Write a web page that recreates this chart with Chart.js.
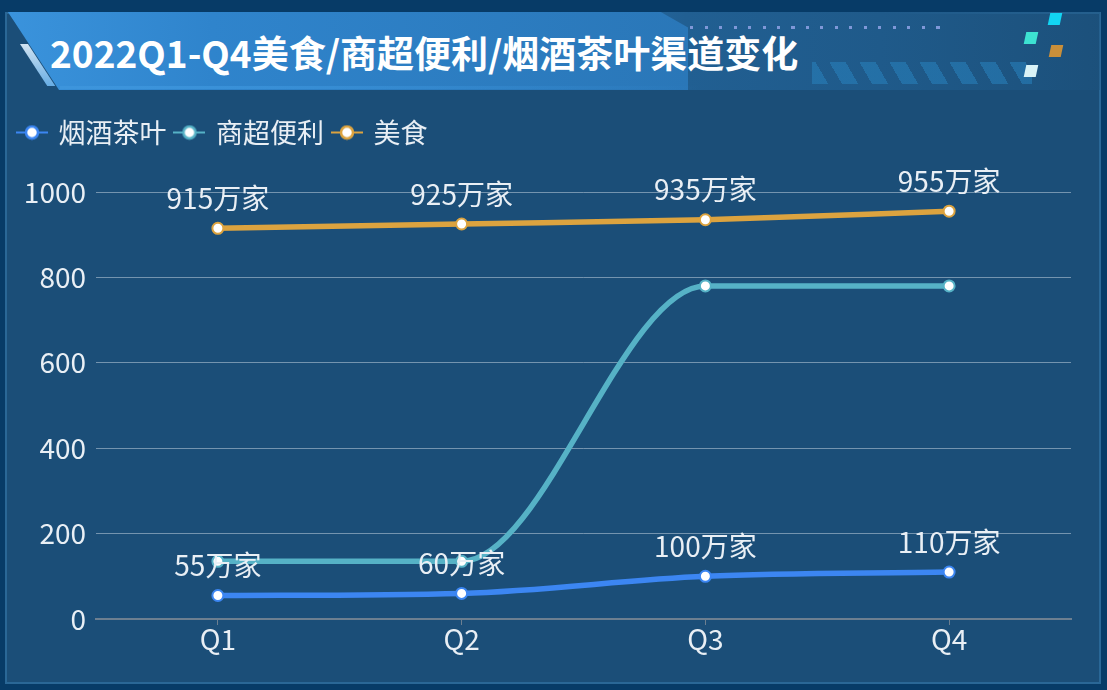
<!DOCTYPE html>
<html>
<head>
<meta charset="utf-8">
<script src="https://cdn.jsdelivr.net/npm/chart.js@4/dist/chart.umd.min.js"></script>
<style>
    html, body {
        margin: 0;
        padding: 0;
        width: 1107px;
        height: 690px;
        overflow: hidden;
        background: #073b67;
        font-family: "Noto Sans CJK SC", "Noto Sans", sans-serif;
    }
    .panel {
        position: absolute;
        left: 5px;
        top: 12px;
        width: 1092px;
        height: 668px;
        background: #1b4e78;
        border: 2px solid #2a6796;
    }
    .banner {
        position: absolute;
        left: 8px;
        top: 12px;
        width: 1092px;
        height: 78px;
        background: linear-gradient(90deg, #2a78bd 0%, #2c7fc4 25%, #2670ad 50%, #215f92 62%, #1f5a8a 80%, rgba(29, 84, 128, 0.4) 100%);
        clip-path: polygon(0 0, 100% 0, 100% 100%, 5% 100%);
    }
    .banner-light {
        position: absolute;
        left: 8px;
        top: 12px;
        width: 680px;
        height: 78px;
        background: linear-gradient(90deg, #3a93dc 0%, #2f84cc 30%, #2a77b8 100%);
        clip-path: polygon(0 0, 96% 0, 100% 20%, 100% 100%, 7.5% 100%);
    }
    .banner-edge {
        position: absolute;
        left: 60px;
        top: 86px;
        width: 640px;
        height: 3px;
        background: linear-gradient(90deg, #3d95dc, rgba(61, 149, 220, 0));
    }
    .glow {
        position: absolute;
        left: 20px;
        top: 44px;
        width: 8px;
        height: 42px;
        background: linear-gradient(180deg, #e6f4ff, #6fb7f0);
        transform: skewX(33deg);
        transform-origin: top left;
        opacity: 0.9;
    }
    .dots {
        position: absolute;
        left: 690px;
        top: 26px;
        width: 260px;
        height: 3px;
        background: repeating-linear-gradient(90deg, #7f98d8 0 3px, transparent 3px 14.5px);
    }
    .stripes {
        position: absolute;
        left: 812px;
        top: 62px;
        width: 220px;
        height: 22px;
        background: repeating-linear-gradient(60deg, rgba(40, 130, 190, 0.55) 0 14px, transparent 14px 26px);
    }
    .sq {
        position: absolute;
        width: 12px;
        height: 12px;
        transform: skewX(-12deg);
    }
    .title {
        position: absolute;
        left: 50px;
        top: 27px;
        color: #ffffff;
        font-size: 37px;
        font-weight: bold;
        line-height: 50px;
        white-space: nowrap;
    }
    #chart {
        position: absolute;
        left: 0;
        top: 0;
    }
</style>
</head>
<body>
<div class="panel"></div>
<div class="banner"></div>
<div class="banner-light"></div>
<div class="banner-edge"></div>
<div class="glow"></div>
<div class="dots"></div>
<div class="stripes"></div>
<div class="sq" style="left:1049px; top:13px; background:#12d5f3;"></div>
<div class="sq" style="left:1025px; top:32px; background:#3de2d2;"></div>
<div class="sq" style="left:1050px; top:45px; background:#c98f3a;"></div>
<div class="sq" style="left:1025px; top:65px; background:#d9f3f7;"></div>
<div class="title">2022Q1-Q4美食/商超便利/烟酒茶叶渠道变化</div>
<canvas id="chart" width="1107" height="690"></canvas>

<script>
/* data */
const quarters = ['Q1', 'Q2', 'Q3', 'Q4'];
const tobaccoTea = [55, 60, 100, 110];
const supermarket = [135, 135, 780, 780];
const food = [915, 925, 935, 955];

const textColor = '#e9eff5';
const fontFamily = '"Noto Sans CJK SC", "Noto Sans", sans-serif';


/* Small line + circle icon for the legend */
function legendIcon(color) {
    const c = document.createElement('canvas');
    c.width = 32;
    c.height = 16;
    const ctx = c.getContext('2d');
    ctx.strokeStyle = color;
    ctx.lineWidth = 2;
    ctx.beginPath();
    ctx.moveTo(0, 8);
    ctx.lineTo(32, 8);
    ctx.stroke();
    ctx.beginPath();
    ctx.arc(16, 8, 6, 0, Math.PI * 2);
    ctx.fillStyle = '#ffffff';
    ctx.fill();
    ctx.lineWidth = 2.5;
    ctx.stroke();
    return c;
}


/* Draw "xx万家" above the points of flagged datasets */
const pointLabels = {
    id: 'pointLabels',
    afterDatasetsDraw(chart) {
        const ctx = chart.ctx;
        ctx.save();
        ctx.font = '28px ' + fontFamily;
        ctx.fillStyle = textColor;
        ctx.textAlign = 'center';
        ctx.textBaseline = 'middle';
        chart.data.datasets.forEach((ds, i) => {
            if (!ds.showValues) return;
            chart.getDatasetMeta(i).data.forEach((pt, j) => {
                ctx.fillText(ds.data[j] + '万家', pt.x, pt.y - 30);
            });
        });
        ctx.restore();
    }
};


/* Extra gap below the legend */
const legendGap = {
    id: 'legendGap',
    beforeInit(chart) {
        const fit = chart.legend.fit;
        chart.legend.fit = function() {
            fit.bind(chart.legend)();
            this.height += 36;
        };
    }
};


function lineSet(label, data, color, showValues) {
    return {
        label: label,
        data: data,
        borderColor: color,
        backgroundColor: '#ffffff',
        borderWidth: 5.5,
        pointRadius: 5.5,
        pointBorderWidth: 2,
        pointBorderColor: color,
        pointBackgroundColor: '#ffffff',
        cubicInterpolationMode: 'monotone',
        showValues: showValues,
        icon: legendIcon(color),
    };
}


new Chart(document.getElementById('chart'), {
    type: 'line',
    data: {
        labels: quarters,
        datasets: [
            lineSet('烟酒茶叶', tobaccoTea, '#3c86f2', true),
            lineSet('商超便利', supermarket, '#56b2c6', false),
            lineSet('美食', food, '#dca33f', true),
        ]
    },
    options: {
        responsive: false,
        animation: false,
        layout: {
            padding: {top: 109, left: 9, right: 36, bottom: 0}
        },
        plugins: {
            legend: {
                position: 'top',
                align: 'start',
                labels: {
                    color: textColor,
                    font: {size: 27, family: fontFamily},
                    usePointStyle: true,
                    pointStyleWidth: 26,
                    padding: 10,
                    generateLabels(chart) {
                        const items = Chart.defaults.plugins.legend.labels.generateLabels(chart);
                        items.forEach((item, i) => {
                            item.pointStyle = chart.data.datasets[i].icon;
                        });
                        return items;
                    }
                }
            },
            tooltip: {enabled: false}
        },
        scales: {
            x: {
                offset: true,
                grid: {
                    drawOnChartArea: false,
                    drawTicks: true,
                    tickLength: 6,
                    color: '#6d7f90',
                },
                border: {color: '#6d7f90', width: 2},
                ticks: {
                    color: textColor,
                    padding: 0,
                    font: {size: 28, family: fontFamily, lineHeight: 1},
                },
                afterFit(scale) {
                    scale.height = 71;
                }
            },
            y: {
                min: 0,
                max: 1000,
                grid: {
                    color: 'rgba(190, 205, 220, 0.55)',
                    drawTicks: false,
                },
                border: {display: false},
                ticks: {
                    stepSize: 200,
                    color: textColor,
                    padding: 10,
                    font: {size: 28, family: fontFamily},
                    callback: (value) => String(value),
                },
                afterFit(scale) {
                    scale.width = 87;
                }
            }
        }
    },
    plugins: [pointLabels, legendGap]
});
</script>
</body>
</html>
